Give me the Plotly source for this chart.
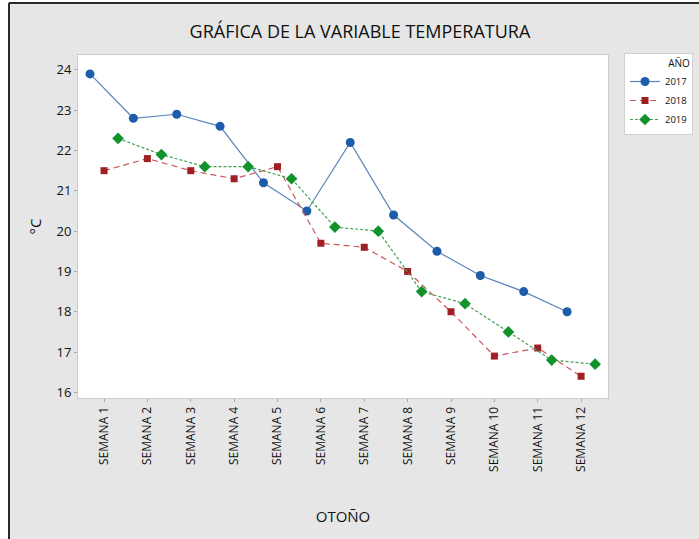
import plotly.graph_objects as go

semanas = [f"SEMANA {i}" for i in range(1, 13)]
t2017 = [23.9, 22.8, 22.9, 22.6, 21.2, 20.5, 22.2, 20.4, 19.5, 18.9, 18.5, 18.0]
t2018 = [21.5, 21.8, 21.5, 21.3, 21.6, 19.7, 19.6, 19.0, 18.0, 16.9, 17.1, 16.4]
t2019 = [22.3, 21.9, 21.6, 21.6, 21.3, 20.1, 20.0, 18.5, 18.2, 17.5, 16.8, 16.7]
y_ticks = [16, 17, 18, 19, 20, 21, 22, 23, 24]

# plot-area pixel geometry (for frame shapes only)
L, R, T, B = 78, 608, 55, 398
W, H = R - L, B - T


def px_x(x):
    return (x - L) / W


def px_y(y):
    return (B - y) / H


fig = go.Figure()
fig.add_trace(go.Scatter(
    x=semanas, y=t2017, name="2017", mode="lines+markers",
    line=dict(color="#5a86bb", width=1.2),
    marker=dict(symbol="circle", size=9, color="#1d5ca8"),
    offsetgroup="a"))
fig.add_trace(go.Scatter(
    x=semanas, y=t2018, name="2018", mode="lines+markers",
    line=dict(color="#c9585a", width=1.2, dash="6px,4px"),
    marker=dict(symbol="square", size=7, color="#9e1f24"),
    offsetgroup="b"))
fig.add_trace(go.Scatter(
    x=semanas, y=t2019, name="2019", mode="lines+markers",
    line=dict(color="#45a052", width=1.2, dash="3px,2px"),
    marker=dict(symbol="diamond", size=9, color="#11922b"),
    offsetgroup="c"))

fig.update_layout(
    width=699, height=539,
    margin=dict(l=L, r=699 - R, t=T, b=539 - B, autoexpand=False),
    paper_bgcolor="#e6e6e6",
    plot_bgcolor="white",
    scattermode="group",
    scattergap=0.03,
    font=dict(family="Open Sans, sans-serif", color="#111111"),
    title=dict(text="GRÁFICA DE LA VARIABLE TEMPERATURA", x=0.515, xanchor="center",
               y=1 - 32 / 539, yanchor="middle", font=dict(size=18, color="#111111")),
    showlegend=True,
    legend=dict(x=px_x(624), y=px_y(53), xanchor="left", yanchor="top",
                bgcolor="white", bordercolor="#d0d0d0", borderwidth=1,
                font=dict(size=9.5),
                title=dict(text="AÑO", side="top right", font=dict(size=10)),
                itemwidth=30, tracegroupgap=0),
    xaxis=dict(type="category", range=[-0.6, 11.62], tickangle=-90,
               tickfont=dict(size=12), ticks="outside", ticklen=3, tickcolor="#aaaaaa",
               showgrid=False, showline=True, linecolor="#cccccc", mirror=True,
               title=dict(text="OTOÑO", font=dict(size=15), standoff=40)),
    yaxis=dict(range=[15.86, 24.37], tickvals=y_ticks, tickfont=dict(size=13),
               ticks="outside", ticklen=3, tickcolor="#aaaaaa",
               showgrid=False, zeroline=False, showline=True, linecolor="#cccccc", mirror=True,
               title=dict(text="°C", font=dict(size=15), standoff=11)),
)

# white page strips outside the dark frame, then the frame lines (left and top)
fig.add_shape(type="rect", xref="paper", yref="paper",
              x0=px_x(0), x1=px_x(8), y0=px_y(539), y1=px_y(0),
              line=dict(width=0), fillcolor="white", layer="below")
fig.add_shape(type="rect", xref="paper", yref="paper",
              x0=px_x(0), x1=px_x(699), y0=px_y(2), y1=px_y(0),
              line=dict(width=0), fillcolor="white", layer="below")
fig.add_shape(type="line", xref="paper", yref="paper",
              x0=px_x(9), x1=px_x(9), y0=px_y(539), y1=px_y(3),
              line=dict(color="#2a2a2a", width=2), layer="below")
fig.add_shape(type="line", xref="paper", yref="paper",
              x0=px_x(9), x1=px_x(699), y0=px_y(3), y1=px_y(3),
              line=dict(color="#2a2a2a", width=2), layer="below")

fig.write_html("out.html", config={"displayModeBar": False},
               post_script="document.body.style.margin='0';")
